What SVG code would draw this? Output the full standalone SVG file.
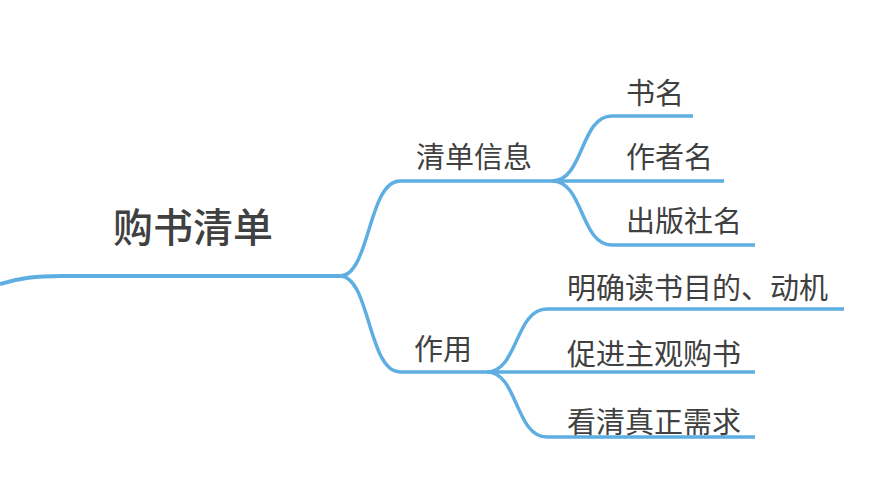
<svg xmlns="http://www.w3.org/2000/svg" width="886" height="500" viewBox="0 0 886 500">
<style>
.ln{fill:none;stroke:#5eaee2;stroke-width:3.5;stroke-linecap:butt}
.t{font-family:"Noto Sans CJK SC","Noto Sans",sans-serif;fill:#404040}
.leaf{font-size:29px}
.root{font-size:40px;font-weight:500}
</style>
<rect width="886" height="500" fill="#ffffff"/>
<g id="connectors">
<path class="ln" style="stroke-width:4" d="M0,284 C20,278 35,276 62,276 L340,276"/>
<path class="ln" d="M340,276 C370,276 368,181 400,181 L552,181"/>
<path class="ln" d="M552,181 C584,181 580,116 612,116 L693,116"/>
<path class="ln" d="M552,181 L724,181"/>
<path class="ln" d="M552,181 C584,181 580,245 612,245 L755,245"/>
<path class="ln" d="M340,276 C370,276 368,372 400,372 L487,372"/>
<path class="ln" d="M487,372 C518,372 515,309 547,309 L844,309"/>
<path class="ln" d="M487,372 L755,372"/>
<path class="ln" d="M487,372 C518,372 515,437 547,437 L755,437"/>
</g>
<g id="root"><text class="t root" x="113" y="242">购书清单</text></g>
<g id="n-info"><text class="t leaf" x="416" y="168">清单信息</text></g>
<g id="n-name"><text class="t leaf" x="626" y="104">书名</text></g>
<g id="n-author"><text class="t leaf" x="626" y="168">作者名</text></g>
<g id="n-publisher"><text class="t leaf" x="626" y="232">出版社名</text></g>
<g id="n-use"><text class="t leaf" x="414" y="360">作用</text></g>
<g id="n-purpose"><text class="t leaf" x="567" y="299">明确读书目的、动机</text></g>
<g id="n-promote"><text class="t leaf" x="567" y="365">促进主观购书</text></g>
<g id="n-need"><text class="t leaf" x="567" y="433">看清真正需求</text></g>
</svg>
